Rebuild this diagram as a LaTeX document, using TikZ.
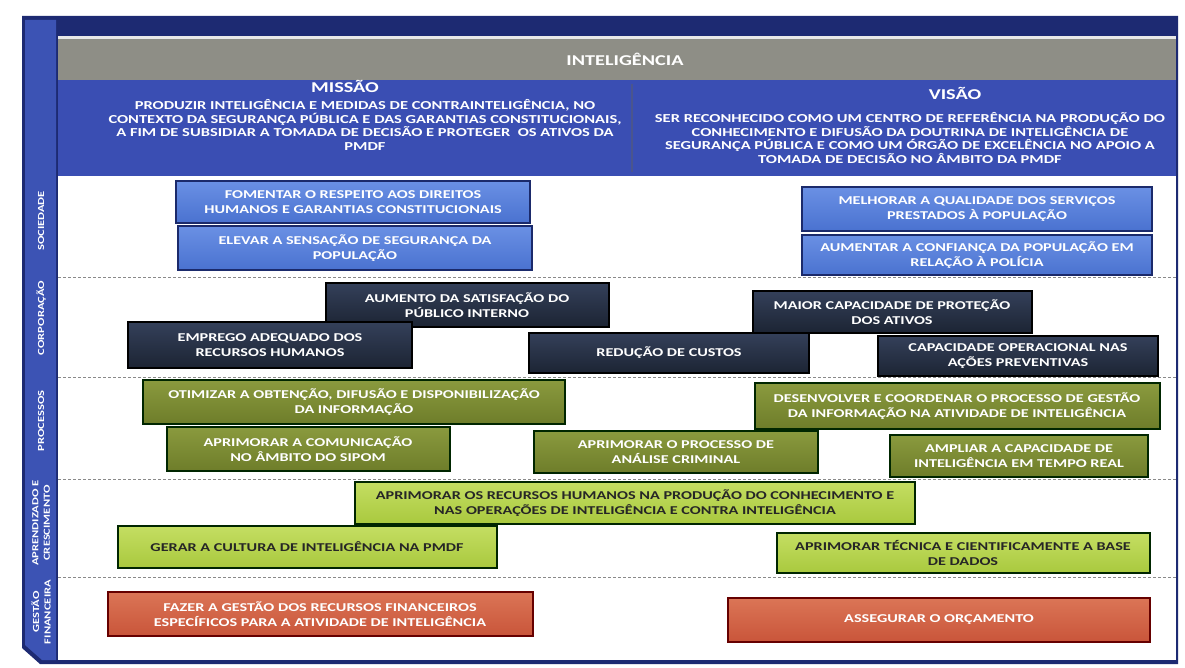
\documentclass[tikz,border=0pt]{standalone}
\usepackage{fontspec}
\setmainfont[FakeStretch=1.35]{Carlito}
\definecolor{navyframe}{HTML}{1D2A72}
\definecolor{colblue}{HTML}{3C53B4}
\definecolor{bandblue}{HTML}{3A4EB3}
\definecolor{headgray}{HTML}{8E8E86}
\definecolor{sblue}{HTML}{4A72D0}
\definecolor{sbluel}{HTML}{6A90E4}
\definecolor{sbluebd}{HTML}{1B2A6B}
\definecolor{cnavy}{HTML}{1C2433}
\definecolor{cnavyl}{HTML}{34405A}
\definecolor{polive}{HTML}{6E7D2A}
\definecolor{polivel}{HTML}{8A9A3E}
\definecolor{aygreen}{HTML}{A9C93E}
\definecolor{aygreenl}{HTML}{C4DE62}
\definecolor{forange}{HTML}{C9553A}
\definecolor{forangel}{HTML}{DB7556}
\definecolor{sepgray}{HTML}{8A8A8A}
\tikzset{
  objbox/.style={rectangle, line width=2pt, align=center, inner sep=2pt,
    font=\fontsize{12}{14.5}\selectfont\bfseries},
  socbox/.style={objbox, draw=sbluebd, top color=sbluel, bottom color=sblue, text=white},
  corbox/.style={objbox, draw=black, top color=cnavyl, bottom color=cnavy, text=white},
  probox/.style={objbox, draw=black!85!green, top color=polivel, bottom color=polive, text=white},
  aprbox/.style={objbox, draw=black!85!green, top color=aygreenl, bottom color=aygreen, text=black!85},
  finbox/.style={objbox, draw=red!40!black, top color=forangel, bottom color=forange, text=white},
  sepline/.style={sepgray, line width=1pt, dash pattern=on 3pt off 2pt},
  rowlabel/.style={rotate=90, text=white, align=center, font=\fontsize{9.3}{11.5}\selectfont\bfseries},
  headtext/.style={text=white, font=\fontsize{15}{17}\selectfont\bfseries},
  bandtext/.style={text=white, align=center, font=\fontsize{12.2}{13.6}\selectfont\bfseries}
}
\begin{document}
\begin{tikzpicture}[x=1pt,y=-1pt]
\useasboundingbox (0,0) rectangle (1185,668);
\fill[white] (0,0) rectangle (1185,668);
% frame and bands
\fill[navyframe] (22,16) -- (1178,16) -- (1178,664) -- (40,664) -- (22,648) -- cycle;
\fill[white] (58,176) rectangle (1176,660);
\fill[colblue] (25,20) -- (56,20) -- (56,660) -- (42,660) -- (25,645) -- cycle;
\fill[headgray] (58,36) rectangle (1176,80);
\fill[white!80!headgray] (58,36) rectangle (1176,39);
\fill[bandblue] (58,80) rectangle (1176,176);
\draw[navyframe!80, line width=1.5pt] (632,84) -- (632,172);
% separators
\draw[sepline] (58,277) coordinate (s1a) -- (1176,277) coordinate (s1b);
\draw[sepline] (58,377) coordinate (s2a) -- (1176,377) coordinate (s2b);
\draw[sepline] (58,479) coordinate (s3a) -- (1176,479) coordinate (s3b);
\draw[sepline] (58,577) coordinate (s4a) -- (1176,577) coordinate (s4b);
% header texts
\node[headtext] (title) at (625,59) {INTELIGÊNCIA};
\node[headtext] (missao) at (345,86) {MISSÃO};
\node[headtext] (visao) at (955,93) {VISÃO};
\node[bandtext] (missaotxt) at (365,125) {PRODUZIR INTELIGÊNCIA E MEDIDAS DE CONTRAINTELIGÊNCIA, NO\\CONTEXTO DA SEGURANÇA PÚBLICA E DAS GARANTIAS CONSTITUCIONAIS,\\A FIM DE SUBSIDIAR A TOMADA DE DECISÃO E PROTEGER\ \ OS ATIVOS DA\\PMDF};
\node[bandtext] (visaotxt) at (910,138) {SER RECONHECIDO COMO UM CENTRO DE REFERÊNCIA NA PRODUÇÃO DO\\CONHECIMENTO E DIFUSÃO DA DOUTRINA DE INTELIGÊNCIA DE\\SEGURANÇA PÚBLICA E COMO UM ÓRGÃO DE EXCELÊNCIA NO APOIO A\\TOMADA DE DECISÃO NO ÂMBITO DA PMDF};
% row labels
\node[rowlabel] (lsoc) at (41,221) {SOCIEDADE};
\node[rowlabel] (lcor) at (41,318) {CORPORAÇÃO};
\node[rowlabel] (lpro) at (41,421) {PROCESSOS};
\node[rowlabel] (lapr) at (41,523) {APRENDIZADO E\\CRESCIMENTO};
\node[rowlabel] (lfin) at (41,612) {GESTÃO\\FINANCEIRA};
% sociedade
\node[socbox, minimum width=354pt, minimum height=42pt] (o1) at (353,202) {FOMENTAR O RESPEITO AOS DIREITOS\\HUMANOS E GARANTIAS CONSTITUCIONAIS};
\node[socbox, minimum width=354pt, minimum height=44pt] (o2) at (355,248) {ELEVAR A SENSAÇÃO DE SEGURANÇA DA\\POPULAÇÃO};
\node[socbox, minimum width=350pt, minimum height=44pt] (o3) at (977,209) {MELHORAR A QUALIDADE DOS SERVIÇOS\\PRESTADOS À POPULAÇÃO};
\node[socbox, minimum width=350pt, minimum height=40pt] (o4) at (977,255) {AUMENTAR A CONFIANÇA DA POPULAÇÃO EM\\RELAÇÃO À POLÍCIA};
% corporacao
\node[corbox, minimum width=283pt, minimum height=44pt] (o5) at (467,305) {AUMENTO DA SATISFAÇÃO DO\\PÚBLICO INTERNO};
\node[corbox, minimum width=279pt, minimum height=42pt] (o6) at (892,312) {MAIOR CAPACIDADE DE PROTEÇÃO\\DOS ATIVOS};
\node[corbox, minimum width=284pt, minimum height=46pt] (o7) at (270,345) {EMPREGO ADEQUADO DOS\\RECURSOS HUMANOS};
\node[corbox, minimum width=280pt, minimum height=40pt] (o8) at (669,353) {REDUÇÃO DE CUSTOS};
\node[corbox, minimum width=280pt, minimum height=40pt] (o9) at (1018,356) {CAPACIDADE OPERACIONAL NAS\\AÇÕES PREVENTIVAS};
% processos
\node[probox, minimum width=422pt, minimum height=44pt] (o10) at (354,402) {OTIMIZAR A OBTENÇÃO, DIFUSÃO E DISPONIBILIZAÇÃO\\DA INFORMAÇÃO};
\node[probox, minimum width=405pt, minimum height=46pt] (o11) at (957,406) {DESENVOLVER E COORDENAR O PROCESSO DE GESTÃO\\DA INFORMAÇÃO NA ATIVIDADE DE INTELIGÊNCIA};
\node[probox, minimum width=283pt, minimum height=44pt] (o12) at (308,449) {APRIMORAR A COMUNICAÇÃO\\NO ÂMBITO DO SIPOM};
\node[probox, minimum width=284pt, minimum height=42pt] (o13) at (676,452) {APRIMORAR O PROCESSO DE\\ANÁLISE CRIMINAL};
\node[probox, minimum width=258pt, minimum height=42pt] (o14) at (1019,456) {AMPLIAR A CAPACIDADE DE\\INTELIGÊNCIA EM TEMPO REAL};
% aprendizado
\node[aprbox, minimum width=560pt, minimum height=42pt] (o15) at (635,503) {APRIMORAR OS RECURSOS HUMANOS NA PRODUÇÃO DO CONHECIMENTO E\\NAS OPERAÇÕES DE INTELIGÊNCIA E CONTRA INTELIGÊNCIA};
\node[aprbox, minimum width=379pt, minimum height=42pt] (o16) at (307,547) {GERAR A CULTURA DE INTELIGÊNCIA NA PMDF};
\node[aprbox, minimum width=373pt, minimum height=40pt] (o17) at (963,553) {APRIMORAR TÉCNICA E CIENTIFICAMENTE A BASE\\DE DADOS};
% financeira
\node[finbox, minimum width=425pt, minimum height=44pt] (o18) at (320,614) {FAZER A GESTÃO DOS RECURSOS FINANCEIROS\\ESPECÍFICOS PARA A ATIVIDADE DE INTELIGÊNCIA};
\node[finbox, minimum width=422pt, minimum height=44pt] (o19) at (939,620) {ASSEGURAR O ORÇAMENTO};
\end{tikzpicture}
\end{document}
